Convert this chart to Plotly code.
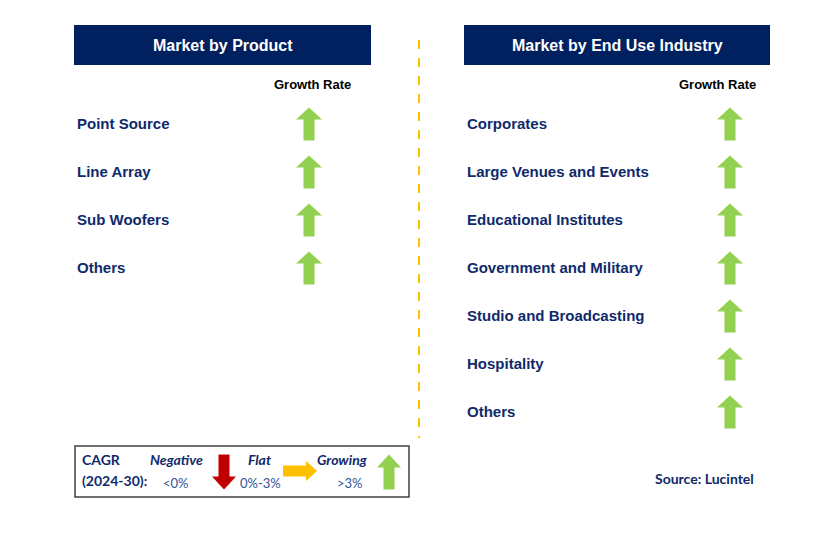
import plotly.graph_objects as go

# ---- data ----
product_segments = ["Point Source", "Line Array", "Sub Woofers", "Others"]
product_growth = ["Growing", "Growing", "Growing", "Growing"]

end_use_segments = ["Corporates", "Large Venues and Events", "Educational Institutes",
                    "Government and Military", "Studio and Broadcasting", "Hospitality", "Others"]
end_use_growth = ["Growing"] * 7

panel_titles = ["Market by Product", "Market by End Use Industry"]
legend_labels = ["Negative", "Flat", "Growing"]
legend_ranges = ["<0%", "0%-3%", ">3%"]
cagr_label = ["CAGR", "(2024-30):"]
source_text = "Source: Lucintel"

NAVY = "#002060"
GREEN = "#92D050"
RED = "#C00000"
ORANGE = "#FFC000"
TXT = "#0F2A6B"

W, H = 834, 542
OFF = 8  # page body margin
fig = go.Figure()
shapes = []
ann = []


def arrow_path(cx, cy, direction, length=33, width=26, shaft=11, head=12):
    # block arrow centred on (cx, cy)
    h = length / 2.0
    w = width / 2.0
    s = shaft / 2.0
    if direction == "up":
        pts = [(cx, cy - h), (cx + w, cy - h + head), (cx + s, cy - h + head), (cx + s, cy + h),
               (cx - s, cy + h), (cx - s, cy - h + head), (cx - w, cy - h + head)]
    elif direction == "down":
        pts = [(cx, cy + h), (cx + w, cy + h - head), (cx + s, cy + h - head), (cx + s, cy - h),
               (cx - s, cy - h), (cx - s, cy + h - head), (cx - w, cy + h - head)]
    else:  # right
        pts = [(cx + h, cy), (cx + h - head, cy - w), (cx + h - head, cy - s), (cx - h, cy - s),
               (cx - h, cy + s), (cx + h - head, cy + s), (cx + h - head, cy + w)]
    return "M " + " L ".join(f"{x:.1f},{y:.1f}" for x, y in pts) + " Z"


dir_map = {"Growing": ("up", GREEN), "Flat": ("right", ORANGE), "Negative": ("down", RED)}

# header boxes
for title, (x0, x1) in zip(panel_titles, [(74, 371), (464, 770)]):
    shapes.append(dict(type="rect", x0=x0, x1=x1, y0=25, y1=65, fillcolor=NAVY, line_width=0, layer="below"))
    ann.append(dict(x=(x0 + x1) / 2, y=45, text=f"<b>{title}</b>", showarrow=False,
                    font=dict(family="Liberation Sans", size=16, color="white")))

# divider
shapes.append(dict(type="line", x0=419, x1=419, y0=40, y1=438,
                   line=dict(color=ORANGE, width=2, dash="dash")))

# panels
panels = [
    (product_segments, product_growth, 75, 309, 312),
    (end_use_segments, end_use_growth, 465, 730, 717),
]
for segs, growth, tx, ax, gx in panels:
    ann.append(dict(x=gx, y=84, text="<b>Growth Rate</b>", showarrow=False,
                    font=dict(family="Liberation Sans", size=13, color="black")))
    for i, (seg, g) in enumerate(zip(segs, growth)):
        y = 124 + 48 * i
        ann.append(dict(x=tx, y=y - 1, text=f"<b>{seg}</b>", showarrow=False, xanchor="left",
                        font=dict(family="Liberation Sans", size=15, color=TXT)))
        d, c = dir_map[g]
        shapes.append(dict(type="path", path=arrow_path(ax, y, d), fillcolor=c, line_width=0))

# legend box
shapes.append(dict(type="rect", x0=75, x1=409, y0=446, y1=497, fillcolor="white",
                   line=dict(color="#404040", width=1.5), layer="below"))
ann.append(dict(x=80, y=459, text=f"<b>{cagr_label[0]}</b>", showarrow=False, xanchor="left",
                font=dict(family="Lato", size=14, color=TXT)))
ann.append(dict(x=80, y=480, text=f"<b>{cagr_label[1]}</b>", showarrow=False, xanchor="left",
                font=dict(family="Lato", size=14, color=TXT)))
for lab, rng, lx, rx, arx in zip(legend_labels, legend_ranges, [176, 259, 342], [176, 260, 350], [224, 300, 389]):
    ann.append(dict(x=lx, y=459, text=f"<b><i>{lab}</i></b>", showarrow=False,
                    font=dict(family="Lato", size=14, color=TXT)))
    ann.append(dict(x=rx, y=483, text=rng, showarrow=False,
                    font=dict(family="Lato", size=13, color="#2F5597")))
    d, c = dir_map[lab]
    cy = 471 if d == "right" else 472
    if d == "right":
        shapes.append(dict(type="path", path=arrow_path(arx, cy, d, length=34, width=20, shaft=11, head=11),
                           fillcolor=c, line_width=0))
    else:
        shapes.append(dict(type="path", path=arrow_path(arx, cy, d, length=35, width=24, shaft=11, head=13),
                           fillcolor=c, line_width=0))

ann.append(dict(x=756, y=478, text=f"<b>{source_text}</b>", showarrow=False, xanchor="right",
                font=dict(family="Lato", size=14, color=TXT)))

for a in ann:
    a.setdefault("xref", "x")
    a.setdefault("yref", "y")

fig.update_layout(
    width=W, height=H, margin=dict(l=0, r=0, t=0, b=0),
    paper_bgcolor="white", plot_bgcolor="white",
    xaxis=dict(range=[OFF, W + OFF], visible=False, fixedrange=True),
    yaxis=dict(range=[H + OFF, OFF], visible=False, fixedrange=True),
    shapes=shapes, annotations=ann, showlegend=False,
)
fig.write_html("out.html")
